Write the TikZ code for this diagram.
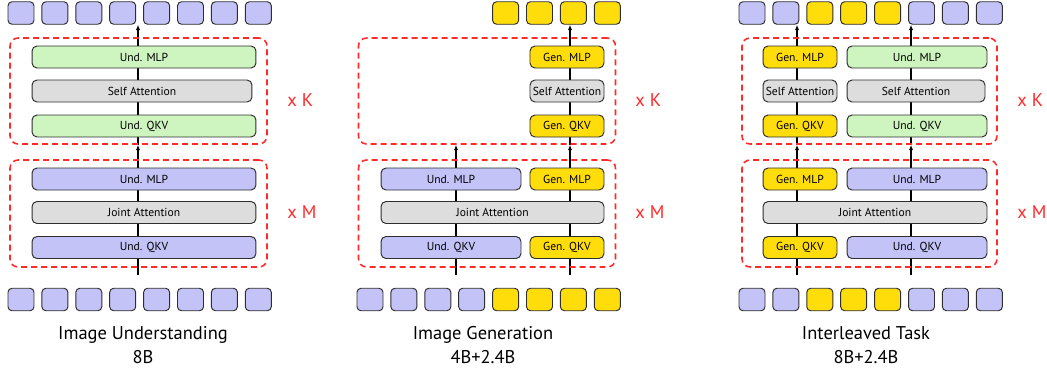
\documentclass[tikz,border=0pt]{standalone}
\usepackage{fontspec}
\setmainfont{PT Sans}
\usetikzlibrary{arrows.meta}
\usetikzlibrary{backgrounds}
\definecolor{undpurple}{HTML}{C3C3F7}
\definecolor{undgreen}{HTML}{CEF5BF}
\definecolor{attgray}{HTML}{DDDDDD}
\definecolor{genyellow}{HTML}{FFDD0A}
\definecolor{repred}{HTML}{FF2A2A}
\definecolor{edgegray}{HTML}{2E2E2E}
\tikzstyle{layer} = [rectangle, rounded corners=0.1cm, minimum height=0.44cm, inner sep=0pt, draw=edgegray, line width=0.55pt, text=black, font=\fontsize{6.6}{7}\selectfont]
\tikzstyle{undp} = [layer, fill=undpurple]
\tikzstyle{undg} = [layer, fill=undgreen]
\tikzstyle{att} = [layer, fill=attgray]
\tikzstyle{gen} = [layer, fill=genyellow, minimum width=1.48cm]
\tikzstyle{tokp} = [rectangle, rounded corners=0.08cm, minimum width=0.52cm, minimum height=0.45cm, inner sep=0pt, draw=edgegray, line width=0.55pt, fill=undpurple]
\tikzstyle{toky} = [tokp, fill=genyellow]
\tikzstyle{repbox} = [rectangle, rounded corners=0.16cm, minimum width=5.14cm, draw=repred, dash pattern=on 0.12cm off 0.08cm, line width=0.9pt]
\tikzstyle{reptext} = [anchor=west, inner sep=0pt, text=repred, font=\fontsize{10.5}{12}\selectfont]
\tikzstyle{tasklabel} = [align=center, inner sep=0pt, font=\fontsize{10.5}{13.6}\selectfont]
\tikzstyle{arrow} = [-{Latex[length=3pt,width=2.4pt]}, line width=0.6pt]

\begin{document}
\begin{tikzpicture}[x=0.02cm, y=-0.02cm]
  \useasboundingbox (0,0) rectangle (1047,370);

  % Image understanding
  \foreach \i in {0,...,7} {
    \node (t1top\i) [tokp] at (21+33.9*\i,13) {};
    \node (t1bot\i) [tokp] at (21+33.9*\i,299.5) {};
  }
  \node (k1) [repbox, minimum height=2.12cm] at (138.5,91) {};
  \node (m1) [repbox, minimum height=2.14cm] at (138.5,213.5) {};
  \node (u1kmlp) [undg, minimum width=4.48cm] at (144,57) {Und. MLP};
  \node (u1katt) [att, minimum width=4.4cm] at (142,91) {Self Attention};
  \node (u1kqkv) [undg, minimum width=4.48cm] at (144,126) {Und. QKV};
  \node (u1mmlp) [undp, minimum width=4.48cm] at (144,179) {Und. MLP};
  \node (j1matt) [att, minimum width=4.48cm] at (144,212.5) {Joint Attention};
  \node (u1mqkv) [undp, minimum width=4.48cm] at (144,247.5) {Und. QKV};
  \node (x1k) [reptext] at (287,100) {x K};
  \node (x1m) [reptext] at (287,212) {x M};
  \node (task1) [tasklabel] at (143,345) {Image Understanding\\8B};
  \coordinate (in1) at (138,275);

  % Image generation
  \foreach \i in {4,...,7} \node (t2top\i) [toky] at (370+33.9*\i,13) {};
  \foreach \c [count=\i from 0] in {tokp,tokp,tokp,tokp,toky,toky,toky,toky}
    \node (t2bot\i) [\c] at (370+33.9*\i,299.5) {};
  \node (k2) [repbox, minimum height=2.12cm] at (487,91) {};
  \node (m2) [repbox, minimum height=2.14cm] at (487,213.5) {};
  \node (g2kmlp) [gen] at (567,57) {Gen. MLP};
  \node (g2katt) [att, minimum width=1.48cm] at (567,91) {Self Attention};
  \node (g2kqkv) [gen] at (567,126) {Gen. QKV};
  \node (u2mmlp) [undp, minimum width=2.8cm] at (451,179) {Und. MLP};
  \node (g2mmlp) [gen] at (567,179) {Gen. MLP};
  \node (j2matt) [att, minimum width=4.46cm] at (492.5,212.5) {Joint Attention};
  \node (u2mqkv) [undp, minimum width=2.8cm] at (451,247.5) {Und. QKV};
  \node (g2mqkv) [gen] at (567,247.5) {Gen. QKV};
  \node (x2k) [reptext] at (635,100) {x K};
  \node (x2m) [reptext] at (635,212) {x M};
  \node (task2) [tasklabel] at (483,345) {Image Generation\\4B+2.4B};
  \coordinate (in2u) at (456,275);
  \coordinate (in2g) at (570,275);

  % Interleaved task
  \foreach \c [count=\i from 0] in {tokp,tokp,toky,toky,toky,tokp,tokp,tokp} {
    \node (t3top\i) [\c] at (752+33.9*\i,13) {};
    \node (t3bot\i) [\c] at (752+33.9*\i,299.5) {};
  }
  \node (k3) [repbox, minimum width=5.1cm, minimum height=2.12cm] at (869.5,91) {};
  \node (m3) [repbox, minimum width=5.1cm, minimum height=2.14cm] at (869.5,213.5) {};
  \node (g3kmlp) [gen] at (800,57) {Gen. MLP};
  \node (u3kmlp) [undg, minimum width=2.8cm] at (917,57) {Und. MLP};
  \node (g3katt) [att, minimum width=1.48cm] at (800,91) {Self Attention};
  \node (u3katt) [att, minimum width=2.76cm] at (916,91) {Self Attention};
  \node (g3kqkv) [gen] at (800,126) {Gen. QKV};
  \node (u3kqkv) [undg, minimum width=2.8cm] at (917,126) {Und. QKV};
  \node (g3mmlp) [gen] at (800,179) {Gen. MLP};
  \node (u3mmlp) [undp, minimum width=2.8cm] at (917,179) {Und. MLP};
  \node (j3matt) [att, minimum width=4.48cm] at (875,212.5) {Joint Attention};
  \node (g3mqkv) [gen] at (800,247.5) {Gen. QKV};
  \node (u3mqkv) [undp, minimum width=2.8cm] at (917,247.5) {Und. QKV};
  \node (x3k) [reptext] at (1017,100) {x K};
  \node (x3m) [reptext] at (1017,212) {x M};
  \node (task3) [tasklabel] at (866,345) {Interleaved Task\\8B+2.4B};
  \coordinate (in3g) at (797,275);
  \coordinate (in3u) at (911,275);

  % token flow, behind the layers
  \begin{scope}[on background layer]
    \draw [arrow] (in1) -- (in1 |- k1.south);
    \draw [arrow] (in1 |- k1.south) -- (in1 |- t1top0.south);
    \draw [arrow] (in2u) -- (in2u |- k2.south);
    \draw [arrow] (in2g) -- (in2g |- k2.south);
    \draw [arrow] (in2g |- k2.south) -- (in2g |- t2top4.south);
    \draw [arrow] (in3g) -- (in3g |- k3.south);
    \draw [arrow] (in3g |- k3.south) -- (in3g |- t3top0.south);
    \draw [arrow] (in3u) -- (in3u |- k3.south);
    \draw [arrow] (in3u |- k3.south) -- (in3u |- t3top0.south);
  \end{scope}

\end{tikzpicture}
\end{document}
